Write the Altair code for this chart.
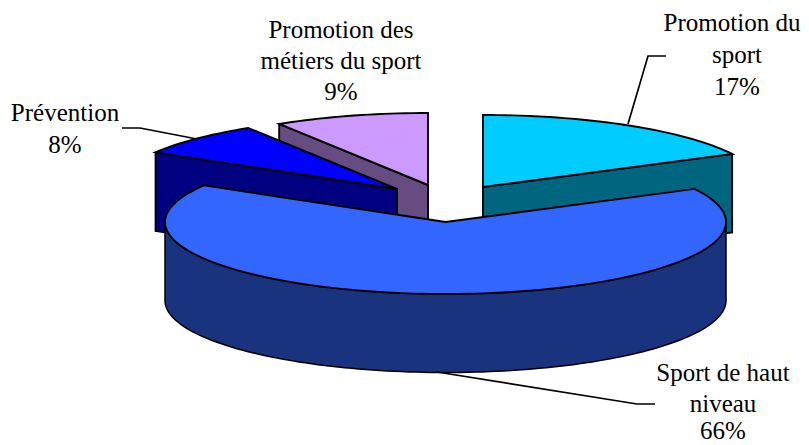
import math
import altair as alt
import pandas as pd

# Slice data (clockwise from 12 o'clock)
names = ["Promotion du sport", "Sport de haut niveau", "Prévention", "Promotion des métiers du sport"]
values = [17.4, 66.1, 7.6, 8.9]
top_colors = ["#00CCFF", "#3366FF", "#0000FF", "#CC99FF"]
wall_colors = ["#006680", "#19337F", "#000080", "#664C80"]
apex_x = [483, 445.5, 397, 428]
apex_y = [187, 222, 189, 185]
draw_order = [3, 2, 0, 1]

label_lines = ["Promotion du", "sport", "17%", "Sport de haut", "niveau", "66%",
               "Prévention", "8%", "Promotion des", "métiers du sport", "9%"]
label_x = [732, 737, 737, 723, 723, 723, 65, 65, 341, 341, 341]
label_y = [23, 55, 87, 373, 404, 431, 113, 145, 30, 61, 92]

leader_ids = [0, 0, 0, 1, 1, 1, 2, 2, 2]
leader_x = [628, 648, 666, 437, 637, 655, 197, 140, 122]
leader_y = [124, 56, 56, 372, 404, 404, 139, 128, 128]

RX, RY, DEPTH = 280.5, 72, 78.5
W, H = 793, 437
x_scale = alt.Scale(domain=[8, 8 + W], range=[0, W], nice=False, zero=False)
y_scale = alt.Scale(domain=[8, 8 + H], range=[0, H], nice=False, zero=False)


def rim(cx, cy, deg, dy=0):
    t = math.radians(deg)
    return (cx + RX * math.sin(t), cy - RY * math.cos(t) + dy)


def arc(cx, cy, a, b, dy=0, step=1.5):
    n = max(2, int(abs(b - a) / step) + 1)
    return [rim(cx, cy, a + (b - a) * k / (n - 1), dy) for k in range(n)]


def polygon(points, fill, width=1.9):
    pts = points + [points[0]]
    df = pd.DataFrame({"x": [p[0] for p in pts], "y": [p[1] for p in pts], "i": list(range(len(pts)))})
    return alt.Chart(df).mark_line(
        fill=fill, stroke="black", strokeWidth=width, strokeJoin="miter", interpolate="linear"
    ).encode(
        x=alt.X("x:Q", scale=x_scale, axis=None),
        y=alt.Y("y:Q", scale=y_scale, axis=None),
        order=alt.Order("i:Q"),
    )


starts = []
acc = 0.0
for v in values:
    starts.append(acc)
    acc += v * 3.6

layers = []
for s in draw_order:
    a = starts[s]
    b = a + values[s] * 3.6
    cx, cy = apex_x[s], apex_y[s]
    # front-facing cut face of the slice
    cut = a if 180 < a else b
    if s == 1:
        layers.append(polygon(
            arc(cx, cy, 90, 270) + arc(cx, cy, 270, 90, DEPTH), wall_colors[s], 1.5))
    else:
        r = rim(cx, cy, cut)
        layers.append(polygon(
            [r, (cx, cy), (cx, cy + DEPTH), (r[0], r[1] + DEPTH)], wall_colors[s]))
    layers.append(polygon([(cx, cy)] + arc(cx, cy, a, b), top_colors[s]))

leaders = alt.Chart(pd.DataFrame({
    "id": leader_ids, "x": leader_x, "y": leader_y, "i": list(range(len(leader_x)))
})).mark_line(color="black", strokeWidth=1.7).encode(
    x=alt.X("x:Q", scale=x_scale, axis=None),
    y=alt.Y("y:Q", scale=y_scale, axis=None),
    detail="id:N",
    order=alt.Order("i:Q"),
)

labels = alt.Chart(pd.DataFrame({
    "t": label_lines, "x": label_x, "y": label_y
})).mark_text(
    font="Liberation Serif", fontSize=25, color="black", align="center", baseline="middle"
).encode(
    x=alt.X("x:Q", scale=x_scale, axis=None),
    y=alt.Y("y:Q", scale=y_scale, axis=None),
    text="t:N",
)

chart = alt.layer(*layers, leaders, labels).properties(
    width=W, height=H, padding=0, autosize=alt.AutoSizeParams(type="none"), background="white"
).configure_view(stroke=None)

chart.save("out.html", embed_options={"renderer": "svg", "actions": False})
